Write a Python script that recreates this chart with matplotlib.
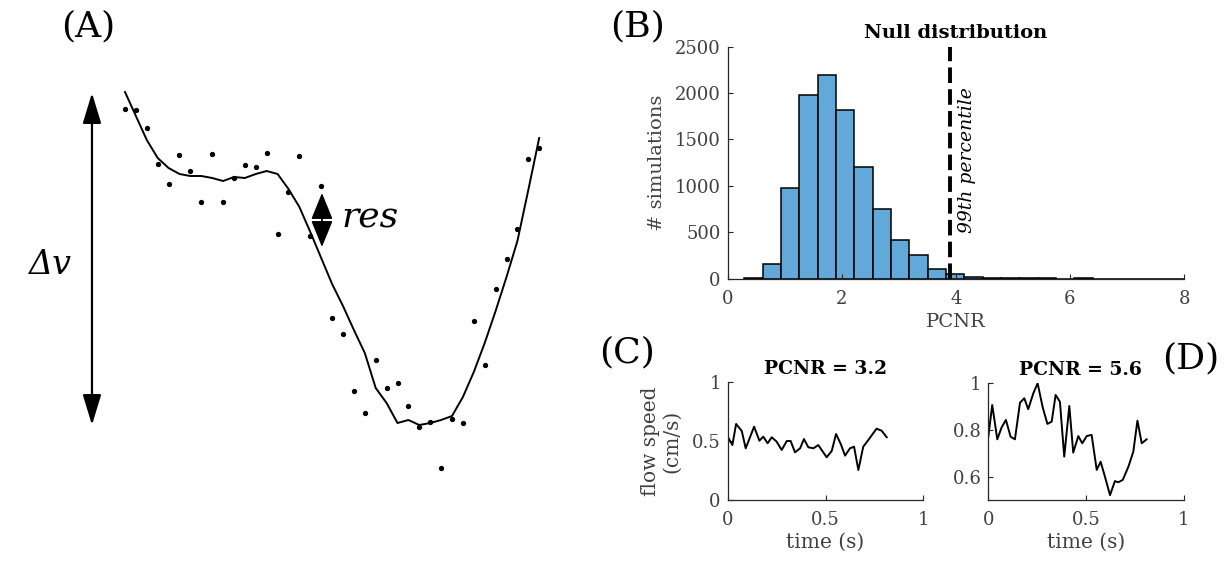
import numpy as np
import matplotlib
matplotlib.use("Agg")
import matplotlib.pyplot as plt

plt.rcParams['font.family'] = ['DejaVu Serif']
plt.rcParams['axes.linewidth'] = 0.9
plt.rcParams['xtick.direction'] = 'in'
plt.rcParams['ytick.direction'] = 'in'

# ---- panel A: noisy samples and smoothed fit (arbitrary units) ----
a_dots = [371, 370, 352, 316, 296, 325, 309, 278, 326, 278, 302, 315, 313,
          327, 246, 288, 324, 244, 294, 162, 146, 89, 67, 120, 92, 97, 74,
          53, 58, 12, 61, 57, 159, 115, 191, 221, 251, 321, 332]
a_fit = [388, 364, 340, 322, 312, 306, 304, 304, 302, 299, 303, 302, 306,
         309, 306, 291, 273, 248, 222, 196, 174, 150, 127, 92, 77, 57, 60,
         55, 57, 60, 64, 83, 108, 137, 169, 203, 239, 290, 342]

# ---- panel B: null distribution histogram ----
bin_edges = 0.29 + 0.3215 * np.arange(25)
bin_counts = [7, 158, 980, 1979, 2195, 1821, 1207, 751, 413, 251, 104, 50,
              22, 11, 5, 3, 3, 2, 8, 2, 1, 1, 1, 1]
pct99 = 3.9

# ---- panel C / D: flow speed traces ----
c_t = [0, .024, .043, .072, .092, .135, .162, .182, .204, .225, .250, .276,
       .302, .322, .344, .370, .390, .412, .438, .463, .506, .532, .554,
       .578, .600, .625, .646, .668, .693, .719, .761, .787, .813]
c_v = [.538, .467, .646, .586, .439, .623, .504, .538, .482, .533, .496,
       .425, .501, .501, .405, .439, .518, .448, .439, .467, .363, .417,
       .561, .476, .377, .439, .453, .255, .453, .510, .606, .589, .533]
d_t = [0, .020, .046, .068, .090, .114, .136, .162, .184, .204, .230, .252,
       .278, .302, .324, .344, .366, .388, .414, .434, .460, .480, .503,
       .528, .554, .574, .596, .622, .647, .664, .687, .716, .741, .762,
       .784, .809]
d_v = [.771, .907, .760, .811, .843, .771, .760, .917, .936, .889, .957, 1.0,
       .897, .826, .836, .950, .921, .686, .903, .703, .774, .743, .774,
       .779, .629, .664, .600, .521, .581, .576, .586, .643, .707, .840,
       .743, .760]

W, H = 1226, 562
fig = plt.figure(figsize=(W / 100, H / 100), dpi=100)


def px_axes(x0, y0, x1, y1):
    return fig.add_axes([x0 / W, 1 - y1 / H, (x1 - x0) / W, (y1 - y0) / H])


def matlab_style(ax):
    for s in ['top', 'right']:
        ax.spines[s].set_visible(False)
    for s in ['left', 'bottom']:
        ax.spines[s].set_color('#262626')
    ax.tick_params(length=3.5, width=0.8, colors='#262626', labelsize=13,
                   labelcolor='#404040')
    ax.tick_params(axis='x', pad=8)
    ax.tick_params(axis='y', pad=5)


# panel A
axA = px_axes(60, 60, 560, 500)
axA.axis('off')
idx = np.arange(len(a_dots))
axA.plot(idx, a_fit, color='black', lw=1.4)
axA.plot(idx, a_dots, 'o', color='black', ms=2.8)
axA.set_xlim(-5.963, 39.908)
axA.set_ylim(-20, 420)
axA.annotate('', xy=(-3.03, 55), xytext=(-3.03, 387),
             arrowprops=dict(arrowstyle='<|-|>,head_length=1.25,head_width=0.38',
                             mutation_scale=15, lw=1.6, color='black',
                             shrinkA=0, shrinkB=0))
axA.annotate('', xy=(18.07, 233), xytext=(18.07, 287),
             arrowprops=dict(arrowstyle='<|-|>,head_length=1.1,head_width=0.45',
                             mutation_scale=15, lw=1.2, color='black',
                             shrinkA=0, shrinkB=0))
axA.text(-6.9, 215, 'Δv', fontsize=24, style='italic', ha='center',
         va='center', clip_on=False)
axA.text(19.9, 263, 'res', fontsize=26, style='italic', ha='left',
         va='center')

# panel B
axB = px_axes(727.7, 46.7, 1184, 278.7)
matlab_style(axB)
axB.hist(bin_edges[:-1], bins=bin_edges, weights=bin_counts,
         color='#62a8d8', edgecolor='black', linewidth=1.1)
axB.axvline(pct99, color='black', lw=2.8, ls=(0, (4, 1.6)))
axB.text(pct99 + 0.3, 1280, '99th percentile', rotation=90, style='italic',
         fontsize=13.5, ha='center', va='center')
axB.set_xlim(0, 8)
axB.set_ylim(0, 2500)
axB.set_xticks([0, 2, 4, 6, 8])
axB.set_yticks([0, 500, 1000, 1500, 2000, 2500])
axB.set_xlabel('PCNR', fontsize=14, color='#404040', labelpad=4)
axB.set_ylabel('# simulations', fontsize=14, color='#404040', labelpad=6)
axB.set_title('Null distribution', fontsize=14, fontweight='bold', pad=6)

# panel C
axC = px_axes(727.7, 382.3, 923.3, 500)
matlab_style(axC)
axC.plot(c_t, c_v, color='black', lw=1.4)
axC.set_xlim(0, 1)
axC.set_ylim(0, 1)
axC.set_xticks([0, 0.5, 1])
axC.set_xticklabels(['0', '0.5', '1'])
axC.set_yticks([0, 0.5, 1])
axC.set_yticklabels(['0', '0.5', '1'])
axC.set_xlabel('time (s)', fontsize=14.5, color='#404040', labelpad=3)
axC.set_ylabel('flow speed\n(cm/s)', fontsize=14.5, color='#404040',
               linespacing=1.1, labelpad=8)
axC.set_title('PCNR = 3.2', fontsize=13.5, fontweight='bold', pad=6)

# panel D
axD = px_axes(988.3, 383.3, 1184, 500)
matlab_style(axD)
axD.plot(d_t, d_v, color='black', lw=1.4)
axD.set_xlim(0, 1)
axD.set_ylim(0.5, 1)
axD.set_xticks([0, 0.5, 1])
axD.set_xticklabels(['0', '0.5', '1'])
axD.set_yticks([0.6, 0.8, 1])
axD.set_yticklabels(['0.6', '0.8', '1'])
axD.set_xlabel('time (s)', fontsize=14.5, color='#404040', labelpad=3)
axD.set_title('PCNR = 5.6', fontsize=13.5, fontweight='bold', pad=6,
              x=0.47)

# panel letters
for lab, x, y in [('(A)', 88, 26), ('(B)', 638, 26), ('(C)', 627, 352),
                  ('(D)', 1191, 358)]:
    fig.text(x / W, 1 - y / H, lab, fontsize=26, ha='center', va='center')

fig.savefig('out.png', dpi=100)
